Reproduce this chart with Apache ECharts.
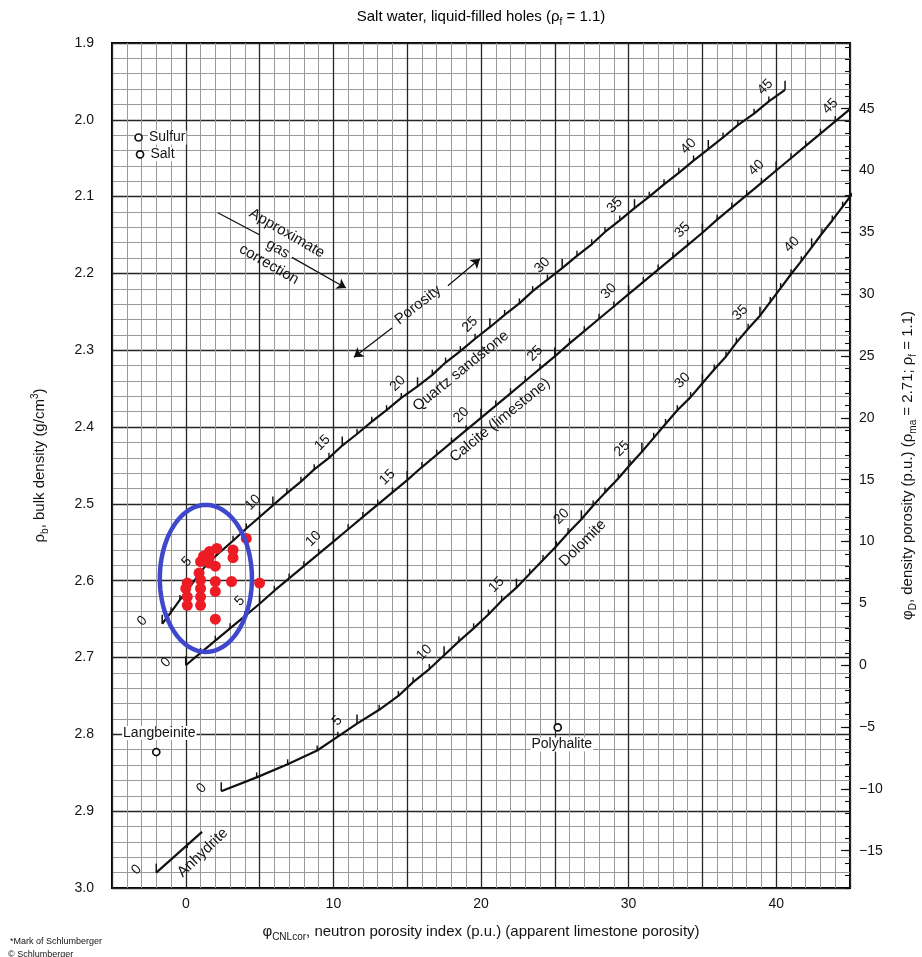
<!DOCTYPE html>
<html>
<head>
<meta charset="utf-8">
<script src="https://cdn.jsdelivr.net/npm/echarts@6/dist/echarts.min.js"></script>
<style>
  html, body { margin: 0; padding: 0; background: #fff; }
  #chart { width: 922px; height: 957px; }
</style>
</head>
<body>
<div id="chart"></div>
<script>
const FONT = '"Liberation Sans", Arial, Helvetica, sans-serif';
const INK = '#141414';

// Porosity scale (p.u.) marked along the lithology lines
const porosity = [0,1,2,3,4,5,6,7,8,9,10,11,12,13,14,15,16,17,18,19,20,21,22,23,24,25,26,27,28,29,30,31,32,33,34,35,36,37,38,39,40,41,42,43,44,45];

// Quartz sandstone: neutron (apparent limestone p.u.) and bulk density (g/cm3)
const sandNeutron = [-1.6,-1.0,-0.4,0.2,0.8,1.4,2.3,3.2,4.1,5.0,5.9,6.85,7.8,8.7,9.7,10.6,11.6,12.6,13.6,14.6,15.7,16.7,17.6,18.6,19.6,20.6,21.6,22.6,23.5,24.5,25.5,26.5,27.5,28.4,29.4,30.4,31.4,32.4,33.4,34.4,35.4,36.4,37.4,38.5,39.5,40.6];
const sandDensity = [2.656,2.641,2.625,2.610,2.594,2.579,2.563,2.548,2.532,2.517,2.502,2.486,2.471,2.455,2.440,2.424,2.409,2.393,2.378,2.362,2.347,2.332,2.316,2.301,2.285,2.270,2.254,2.239,2.223,2.208,2.193,2.177,2.162,2.146,2.131,2.115,2.100,2.084,2.069,2.053,2.038,2.023,2.007,1.992,1.976,1.961];

// Calcite (limestone)
const limeNeutron = [0,1,2,3,4,5,6,7,8,9,10,11,12,13,14,15,16,17,18,19,20,21,22,23,24,25,26,27,28,29,30,31,32,33,34,35,36,37,38,39,40,41,42,43,44,45];
const limeDensity = [2.710,2.694,2.678,2.662,2.646,2.630,2.613,2.597,2.581,2.565,2.549,2.533,2.517,2.501,2.485,2.469,2.452,2.436,2.420,2.404,2.388,2.372,2.356,2.340,2.324,2.308,2.291,2.275,2.259,2.243,2.227,2.211,2.195,2.179,2.163,2.147,2.130,2.114,2.098,2.082,2.066,2.050,2.034,2.018,2.002,1.986];

// Dolomite (runs off the right edge after 43 p.u.)
const dolPorosity = porosity.slice(0, 45);
const dolNeutron = [2.4,4.8,6.9,8.9,10.3,11.6,13.1,14.4,15.4,16.5,17.5,18.5,19.5,20.5,21.4,22.4,23.3,24.2,25.1,25.9,26.8,27.6,28.4,29.3,30.1,30.9,31.7,32.5,33.3,34.2,35.0,35.8,36.6,37.3,38.1,38.9,39.6,40.3,41.0,41.7,42.4,43.1,43.8,44.5,45.2];
const dolDensity = [2.874,2.856,2.839,2.821,2.803,2.786,2.768,2.750,2.732,2.715,2.697,2.679,2.662,2.644,2.626,2.609,2.591,2.573,2.555,2.538,2.520,2.502,2.485,2.467,2.449,2.432,2.414,2.396,2.378,2.361,2.343,2.325,2.308,2.290,2.272,2.255,2.237,2.219,2.201,2.184,2.166,2.148,2.131,2.113,2.095];

// Anhydrite stub
const anhydriteNeutron = [-2.0, 1.1];
const anhydriteDensity = [2.980, 2.927];
const anhydriteTickNeutron = [-2.0, 0.1];
const anhydriteTickDensity = [2.980, 2.948];
const anhydriteTickMajor = [true, false];

// Measured samples
const sampleNeutron = [4.1,3.2,3.2,2.1,1.6,1.2,1.0,1.6,2.0,0.9,0.1,0.0,0.1,1.0,1.0,1.0,1.0,2.0,2.0,2.0,3.1,5.0,0.1,1.6];
const sampleDensity = [2.545,2.560,2.570,2.558,2.562,2.568,2.575,2.577,2.581,2.590,2.603,2.610,2.621,2.599,2.610,2.621,2.632,2.601,2.614,2.650,2.601,2.603,2.632,2.569];

// Highlight ellipse around the sample cluster: centre and semi-axes
const ellipseCenter = [1.36, 2.597];
const ellipseRadius = [3.12, 0.0957];

// Evaporite minerals
const mineralNames = ['Sulfur', 'Salt', 'Langbeinite', 'Polyhalite'];
const mineralNeutron = [-3.2, -3.1, -2.0, 25.2];
const mineralDensity = [2.023, 2.045, 2.823, 2.791];

// Axis labels
const neutronLabels = [0, 10, 20, 30, 40];
const densityLabels = [1.9, 2.0, 2.1, 2.2, 2.3, 2.4, 2.5, 2.6, 2.7, 2.8, 2.9, 3.0];
const phiDLabels = [-15, -10, -5, 0, 5, 10, 15, 20, 25, 30, 35, 40, 45];

// Density porosity scale: rho_ma = 2.71, rho_f = 1.1
const RHO_MA = 2.71, RHO_F = 1.1;
const toPhiD = rho => (RHO_MA - rho) / (RHO_MA - RHO_F) * 100;
const phiDMinorTicks = [];
for (let v = -18; v <= 50; v++) phiDMinorTicks.push(v);

function zip(a, b, c) { return a.map((v, i) => c ? [v, b[i], c[i]] : [v, b[i]]); }

const lithologies = [
  { phi: porosity, n: sandNeutron, d: sandDensity },
  { phi: porosity, n: limeNeutron, d: limeDensity },
  { phi: dolPorosity, n: dolNeutron, d: dolDensity }
];

const majorTicks = [], minorTicks = [], tickLabels = [];
lithologies.forEach(l => {
  l.phi.forEach((p, i) => {
    const pt = [l.n[i], l.d[i], p];
    if (p % 5 === 0) { majorTicks.push(pt); tickLabels.push(pt); }
    else minorTicks.push(pt);
  });
});
anhydriteTickNeutron.forEach((n, i) => {
  const pt = [n, anhydriteTickDensity[i], 0];
  if (anhydriteTickMajor[i]) { majorTicks.push(pt); tickLabels.push(pt); }
  else minorTicks.push(pt);
});

const nameRich = {
  t: { fontSize: 15, fontFamily: FONT, color: INK, lineHeight: 20 },
  s: { fontSize: 10, fontFamily: FONT, color: INK, verticalAlign: 'bottom', lineHeight: 20 },
  u: { fontSize: 10, fontFamily: FONT, color: INK, verticalAlign: 'top', lineHeight: 20 }
};

const curveSeries = (data) => ({
  type: 'line', data, symbol: 'none', smooth: false, clip: true, silent: true,
  lineStyle: { color: '#111', width: 2.2 }, z: 3
});

// text annotations placed in data coordinates
const notes = [
  { value: [18.64, 2.327], text: 'Quartz sandstone', rotate: 39 },
  { value: [21.29, 2.391], text: 'Calcite (limestone)', rotate: 39 },
  { value: [26.9, 2.551], text: 'Dolomite', rotate: 45 },
  { value: [1.15, 2.954], text: 'Anhydrite', rotate: 44 },
  { value: [15.73, 2.241], text: 'Porosity', rotate: 38 },
  { value: [6.24, 2.168], text: 'Approximate\ngas\ncorrection', rotate: -30 }
];

const arrows = [
  [{ coord: [2.17, 2.121], symbol: 'none' }, { coord: [5.02, 2.150], symbol: 'none' }],
  [{ coord: [7.19, 2.179], symbol: 'none' }, { coord: [10.85, 2.219], symbol: 'arrow' }],
  [{ coord: [13.97, 2.271], symbol: 'none' }, { coord: [11.39, 2.309], symbol: 'arrow' }],
  [{ coord: [17.76, 2.216], symbol: 'none' }, { coord: [19.93, 2.181], symbol: 'arrow' }]
];

const chart = echarts.init(document.getElementById('chart'), null, { renderer: 'canvas' });

chart.setOption({
  animation: false,
  backgroundColor: '#fff',
  textStyle: { fontFamily: FONT },
  grid: {
    left: 112, right: 72, top: 43, bottom: 69,
    outerBoundsMode: 'none', containLabel: false,
    show: true, backgroundColor: '#fff', borderColor: '#000', borderWidth: 2, z: 0
  },
  xAxis: {
    type: 'value', min: -5, max: 45, interval: 5,
    axisLine: { show: false }, axisTick: { show: false },
    axisLabel: {
      margin: 9, fontSize: 14, color: INK, fontFamily: FONT,
      formatter: v => neutronLabels.includes(v) ? String(v) : ''
    },
    splitLine: { show: true, lineStyle: { color: '#262626', width: 1.3 } },
    minorTick: { show: false, splitNumber: 5 },
    minorSplitLine: { show: true, lineStyle: { color: '#9a9a9a', width: 1 } },
    name: '{t|φ}{s|CNLcor}{t|, neutron porosity index (p.u.) (apparent limestone porosity)}',
    nameLocation: 'middle', nameGap: 34,
    nameTextStyle: { rich: nameRich }
  },
  yAxis: [
    {
      type: 'value', inverse: true, min: 1.9, max: 3.0, interval: 0.1,
      axisLine: { show: false }, axisTick: { show: false },
      axisLabel: {
        margin: 18, fontSize: 14, color: INK, fontFamily: FONT,
        formatter: v => densityLabels.some(d => Math.abs(d - v) < 1e-6) ? v.toFixed(1) : ''
      },
      splitLine: { show: true, lineStyle: { color: '#262626', width: 1.3 } },
      minorTick: { show: false, splitNumber: 5 },
      minorSplitLine: { show: true, lineStyle: { color: '#9a9a9a', width: 1 } },
      name: '{t|ρ}{s|b}{t|, bulk density (g/cm}{u|3}{t|)}',
      nameLocation: 'middle', nameRotate: 90, nameGap: 62,
      nameTextStyle: { rich: nameRich }
    },
    {
      type: 'value', position: 'right', min: toPhiD(3.0), max: toPhiD(1.9),
      axisLine: { show: false },
      axisTick: { show: true, inside: true, length: 9, customValues: phiDLabels, lineStyle: { color: '#111', width: 1.2 } },
      axisLabel: {
        show: true, margin: 9, fontSize: 14, color: INK, fontFamily: FONT, customValues: phiDLabels,
        formatter: v => String(v).replace('-', '\u2212')
      },
      splitLine: { show: false },
      name: '{t|φ}{s|D}{t|, density porosity (p.u.) (ρ}{s|ma}{t| = 2.71; ρ}{s|f}{t| = 1.1)}',
      nameLocation: 'middle', nameRotate: 90, nameGap: 48,
      nameTextStyle: { rich: nameRich }
    },
    {
      type: 'value', position: 'right', min: toPhiD(3.0), max: toPhiD(1.9),
      axisLine: { show: false },
      axisTick: { show: true, inside: true, length: 5, customValues: phiDMinorTicks, lineStyle: { color: '#111', width: 1.1 } },
      axisLabel: { show: false },
      splitLine: { show: false }
    }
  ],
  series: [
    curveSeries(zip(sandNeutron, sandDensity)),
    curveSeries(zip(limeNeutron, limeDensity)),
    curveSeries(zip(dolNeutron, dolDensity)),
    curveSeries(zip(anhydriteNeutron, anhydriteDensity)),
    {
      type: 'scatter', data: minorTicks, symbol: 'rect', symbolSize: [1.4, 5], symbolOffset: [0, -2.5],
      itemStyle: { color: '#111', opacity: 1 }, silent: true, z: 4
    },
    {
      type: 'scatter', data: majorTicks, symbol: 'rect', symbolSize: [1.5, 9], symbolOffset: [0, -4.5],
      itemStyle: { color: '#111', opacity: 1 }, silent: true, z: 4
    },
    {
      type: 'scatter', data: tickLabels, symbolSize: 0, silent: true, z: 5,
      itemStyle: { color: 'transparent', opacity: 1 },
      label: {
        show: true, position: 'inside', offset: [-12, -16], rotate: 45,
        fontSize: 14, color: INK, fontFamily: FONT,
        formatter: p => String(p.value[2])
      }
    },
    {
      type: 'scatter', silent: true, z: 6,
      data: notes.map(n => ({ value: n.value, label: { rotate: n.rotate, formatter: n.text } })),
      symbolSize: 0, itemStyle: { color: 'transparent', opacity: 1 },
      label: {
        show: true, position: 'inside', fontSize: 15, lineHeight: 18, color: INK, fontFamily: FONT,
        align: 'center', verticalAlign: 'middle'
      },
      markLine: {
        silent: true, animation: false, symbolSize: 9,
        lineStyle: { color: '#111', width: 1.3, type: 'solid', opacity: 1 }, label: { show: false },
        data: arrows
      }
    },
    {
      type: 'scatter', silent: true, z: 7,
      data: mineralNames.map((name, i) => {
        const lbl = i < 2 ? { position: 'right', distance: 5 }
          : i === 2 ? { position: 'inside', offset: [3, -19] }
          : { position: 'inside', offset: [4, 17] };
        return { value: [mineralNeutron[i], mineralDensity[i]], name, label: lbl };
      }),
      symbol: 'circle', symbolSize: 7,
      itemStyle: { color: '#fff', borderColor: '#111', borderWidth: 1.7, opacity: 1 },
      label: {
        show: true, formatter: p => p.name, fontSize: 14, color: INK, fontFamily: FONT,
        backgroundColor: '#fff', padding: [0, 1]
      }
    },
    {
      type: 'scatter', data: zip(sampleNeutron, sampleDensity), symbol: 'circle', symbolSize: 11,
      itemStyle: { color: '#ed1c24', opacity: 1 }, silent: true, z: 10
    },
    {
      type: 'custom', coordinateSystem: 'cartesian2d', silent: true, z: 11,
      data: [ellipseCenter],
      renderItem: (params, api) => {
        const cx = api.value(0), cy = api.value(1);
        const pts = [];
        for (let i = 0; i < 120; i++) {
          const t = i / 120 * Math.PI * 2;
          pts.push(api.coord([cx + ellipseRadius[0] * Math.cos(t), cy + ellipseRadius[1] * Math.sin(t)]));
        }
        return { type: 'polygon', shape: { points: pts }, style: { fill: 'none', stroke: '#3f48cc', lineWidth: 4.5 } };
      }
    }
  ],
  graphic: [
    {
      type: 'text', x: 481, y: 17,
      style: {
        text: '{t|Salt water, liquid-filled holes (ρ}{s|f}{t| = 1.1)}',
        align: 'center', verticalAlign: 'middle',
        rich: nameRich
      }
    },
    {
      type: 'text', x: 10, y: 942,
      style: { text: '*Mark of Schlumberger', fontSize: 9, fontFamily: '"Liberation Sans Narrow", ' + FONT, fill: INK, verticalAlign: 'middle' }
    },
    {
      type: 'text', x: 8, y: 955,
      style: { text: '© Schlumberger', fontSize: 9, fontFamily: '"Liberation Sans Narrow", ' + FONT, fill: INK, verticalAlign: 'middle' }
    }
  ]
});
</script>
</body>
</html>
